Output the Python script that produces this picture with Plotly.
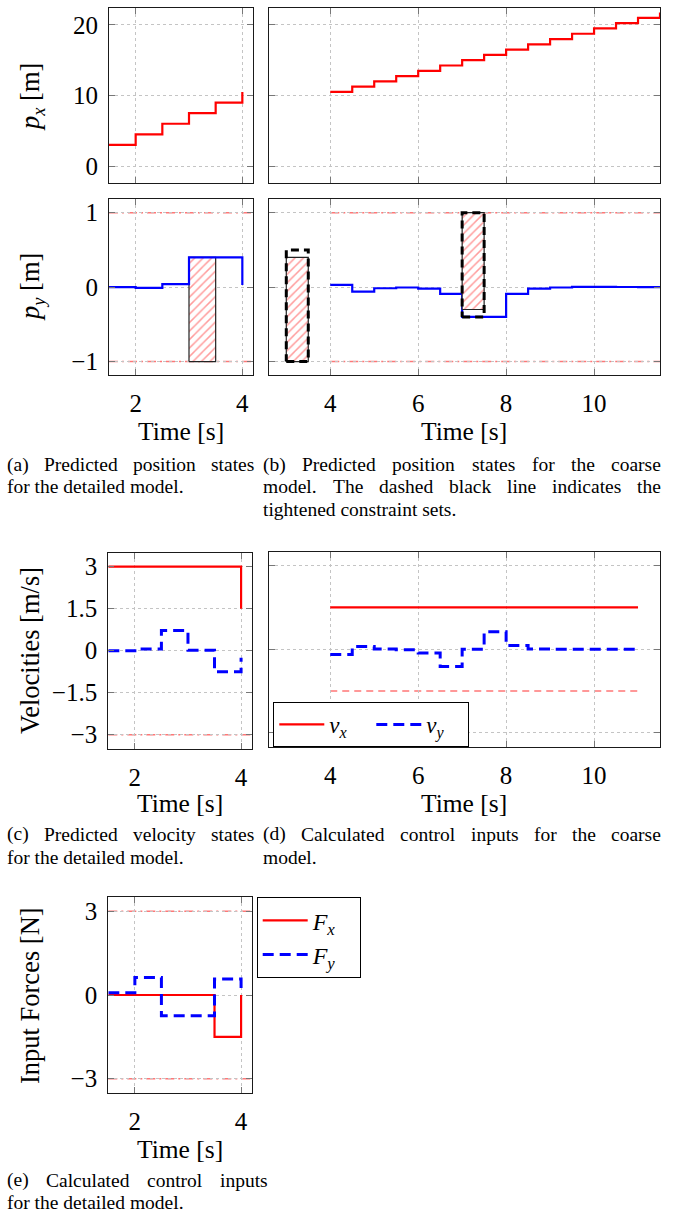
import plotly.graph_objects as go

# ---------------- data ----------------
t_det = [1.5, 2.0, 2.5, 3.0, 3.5, 4.0]
t_coarse = [4.0, 4.5, 5.0, 5.5, 6.0, 6.5, 7.0, 7.5, 8.0, 8.5, 9.0, 9.5, 10.0, 10.5, 11.0, 11.5]
t_coarse_in = [4.0, 4.5, 5.0, 5.5, 6.0, 6.5, 7.0, 7.5, 8.0, 8.5, 9.0, 9.5, 10.0, 10.5, 11.0]

px_det = [3.0, 4.5, 6.0, 7.5, 9.0, 10.5]
px_coarse = [10.5, 11.25, 12.0, 12.75, 13.5, 14.25, 15.0, 15.75, 16.5, 17.25, 18.0, 18.75, 19.5, 20.25, 21.0, 21.75]

py_det = [0.0, -0.01, 0.04, 0.4, 0.4, 0.03]
py_coarse = [0.03, -0.06, -0.015, -0.005, -0.02, -0.09, -0.4, -0.4, -0.09, -0.02, -0.005, 0.005, 0.003, 0.002, 0.0, 0.0]

vx_det = [3.0, 3.0, 3.0, 3.0, 3.0, 1.5]
vy_det = [0.0, 0.06, 0.72, 0.02, -0.75, -0.25]

vx_coarse = [1.5, 1.5, 1.5, 1.5, 1.5, 1.5, 1.5, 1.5, 1.5, 1.5, 1.5, 1.5, 1.5, 1.5, 1.5]
vy_coarse = [-0.19, 0.1, 0.01, -0.02, -0.14, -0.62, 0.0, 0.63, 0.13, 0.01, 0.0, 0.0, 0.0, 0.0, 0.0]

Fx_det = [0.0, 0.0, 0.0, 0.0, -1.5, 0.0]
Fy_det = [0.08, 0.63, -0.74, -0.74, 0.57, 0.25]

py_limit = 1.0
v_limit_det = 3.0
v_limit_coarse = 1.5
F_limit = 3.0

# obstacle sets [x0, x1, y0, y1]
obst_det = [3.0, 3.5, -1.0, 0.4]
obst_coarse = [[3.0, 3.5, -1.0, 0.4], [7.0, 7.5, -0.3, 1.0]]
obst_tight = [[3.0, 3.5, -1.0, 0.5], [7.0, 7.5, -0.4, 1.0]]

# ---------------- layout helpers ----------------
W, H = 674, 1215
SERIF = "Liberation Serif"
RED = "#ff0000"
BLUE = "#0000ff"
LRED = "#ff7777"
DASHDOT = "9px,4px,2px,4px"
HATCH = dict(shape="/", fgcolor="#ff3a3a", bgcolor="white", size=6, solidity=0.25)


def fx(p):
    return p / W


def fy(p):
    return 1 - p / H


boxes = {
    1: (109, 253, 8, 183),
    2: (268.7, 660, 8, 183),
    3: (109, 253, 199.3, 375),
    4: (268.7, 660, 199.3, 375),
    5: (108.3, 251.7, 552.7, 748.7),
    6: (268.7, 660, 551.7, 746.7),
    7: (108.3, 251.7, 897.3, 1092.7),
}

fig = go.Figure()


def rect_xy(r):
    x0, x1, y0, y1 = r
    return [x0, x1, x1, x0, x0], [y0, y0, y1, y1, y0]


def ax(n):
    return ("x" if n == 1 else f"x{n}"), ("y" if n == 1 else f"y{n}")


# (a) px detailed
xa, ya = ax(1)
fig.add_trace(go.Scatter(x=t_det, y=px_det, mode="lines", line=dict(color=RED, width=2.2, shape="hv"),
                         xaxis=xa, yaxis=ya, showlegend=False))
# (b) px coarse
xa, ya = ax(2)
fig.add_trace(go.Scatter(x=t_coarse, y=px_coarse, mode="lines", line=dict(color=RED, width=2.2, shape="hv"),
                         xaxis=xa, yaxis=ya, showlegend=False))

# (a) py detailed
xa, ya = ax(3)
rx, ry = rect_xy(obst_det)
fig.add_trace(go.Scatter(x=rx, y=ry, mode="lines", fill="toself", fillcolor="rgba(0,0,0,0)",
                         fillpattern=HATCH, line=dict(color="#222222", width=1.2),
                         xaxis=xa, yaxis=ya, showlegend=False))
fig.add_trace(go.Scatter(x=t_det, y=py_det, mode="lines", line=dict(color=BLUE, width=2.2, shape="hv"),
                         xaxis=xa, yaxis=ya, showlegend=False))

# (b) py coarse
xa, ya = ax(4)
fig.add_trace(go.Scatter(x=t_coarse, y=py_coarse, mode="lines", line=dict(color=BLUE, width=2.2, shape="hv"),
                         xaxis=xa, yaxis=ya, showlegend=False))
for r in obst_coarse:
    rx, ry = rect_xy(r)
    fig.add_trace(go.Scatter(x=rx, y=ry, mode="lines", fill="toself", fillcolor="rgba(0,0,0,0)",
                             fillpattern=HATCH, line=dict(color="#222222", width=1.2),
                             xaxis=xa, yaxis=ya, showlegend=False))
for r in obst_tight:
    rx, ry = rect_xy(r)
    fig.add_trace(go.Scatter(x=rx, y=ry, mode="lines", line=dict(color="black", width=3, dash="8px,5px"),
                             xaxis=xa, yaxis=ya, showlegend=False))

# (c) velocities detailed
xa, ya = ax(5)
fig.add_trace(go.Scatter(x=t_det, y=vx_det, mode="lines", line=dict(color=RED, width=2.2, shape="hv"),
                         xaxis=xa, yaxis=ya, showlegend=False))
fig.add_trace(go.Scatter(x=t_det, y=vy_det, mode="lines", line=dict(color=BLUE, width=3, shape="hv", dash="11px,6px"),
                         xaxis=xa, yaxis=ya, showlegend=False))

# (d) control inputs coarse
xa, ya = ax(6)
fig.add_trace(go.Scatter(x=t_coarse_in, y=vx_coarse, mode="lines", name="<i>v</i><sub><i>x</i></sub>",
                         line=dict(color=RED, width=2.2, shape="hv"), xaxis=xa, yaxis=ya, legend="legend"))
fig.add_trace(go.Scatter(x=t_coarse_in, y=vy_coarse, mode="lines", name="<i>v</i><sub><i>y</i></sub>",
                         line=dict(color=BLUE, width=3, shape="hv", dash="11px,6px"), xaxis=xa, yaxis=ya,
                         legend="legend"))

# (e) forces detailed
PAD = "&nbsp;" * 3
xa, ya = ax(7)
fig.add_trace(go.Scatter(x=t_det, y=Fx_det, mode="lines", name="<i>F</i><sub><i>x</i></sub>" + PAD,
                         line=dict(color=RED, width=2.2, shape="hv"), xaxis=xa, yaxis=ya, legend="legend2"))
fig.add_trace(go.Scatter(x=t_det, y=Fy_det, mode="lines", name="<i>F</i><sub><i>y</i></sub>" + PAD,
                         line=dict(color=BLUE, width=3, shape="hv", dash="11px,6px"), xaxis=xa, yaxis=ya,
                         legend="legend2"))

# ---------------- constraint lines (shapes in data coords) ----------------
shapes = []


def hline(n, yv, x0=None, x1=None, dash=DASHDOT):
    xa, ya = ax(n)
    if x0 is None:
        shapes.append(dict(type="line", xref=f"{xa} domain", yref=ya, x0=0, x1=1, y0=yv, y1=yv,
                           line=dict(color=LRED, width=1.5, dash=dash), layer="below"))
    else:
        shapes.append(dict(type="line", xref=xa, yref=ya, x0=x0, x1=x1, y0=yv, y1=yv,
                           line=dict(color=LRED, width=1.5, dash=dash), layer="below"))


hline(3, py_limit)
hline(3, -py_limit)
hline(4, py_limit, t_coarse[0], t_coarse[-1])
hline(4, -py_limit, t_coarse[0], t_coarse[-1])
hline(5, -v_limit_det)
hline(6, -v_limit_coarse, t_coarse_in[0], t_coarse_in[-1], dash="7px,5px")
hline(7, F_limit)
hline(7, -F_limit)

# ---------------- axes ----------------
tickfont = dict(family=SERIF, size=25, color="black")


def axis_common():
    return dict(showline=True, linecolor="#1a1a1a", linewidth=1.2, mirror="ticks", ticks="inside",
                ticklen=6, tickcolor="#777777", tickwidth=1, showgrid=True, gridcolor="#c4c4c4",
                griddash="dot", gridwidth=1, zeroline=False, tickfont=tickfont, fixedrange=True)


layout = dict(width=W, height=H, margin=dict(l=0, r=0, t=0, b=0), paper_bgcolor="white",
              plot_bgcolor="white", shapes=shapes, font=dict(family=SERIF, color="black"))

xranges = {1: [1.5, 4.2], 2: [2.6, 11.5], 3: [1.5, 4.2], 4: [2.6, 11.5], 5: [1.5, 4.2], 6: [2.6, 11.5],
           7: [1.5, 4.2]}
yranges = {1: [-2.4, 22.4], 2: [-2.4, 22.4], 3: [-1.18, 1.18], 4: [-1.18, 1.18], 5: [-3.5, 3.5],
           6: [-3.5, 3.5], 7: [-3.5, 3.5]}
xticks = {1: [2, 4], 2: [4, 6, 8, 10], 3: [2, 4], 4: [4, 6, 8, 10], 5: [2, 4], 6: [4, 6, 8, 10], 7: [2, 4]}
xlabels_on = {1: False, 2: False, 3: True, 4: True, 5: True, 6: True, 7: True}
yticks = {1: ([0, 10, 20], ["0", "10", "20"]), 2: ([0, 10, 20], None),
          3: ([-1, 0, 1], ["\u22121", "0", "1"]), 4: ([-1, 0, 1], None),
          5: ([-3, -1.5, 0, 1.5, 3], ["\u22123", "\u22121.5", "0", "1.5", "3"]),
          6: ([-3, 0, 3], None), 7: ([-3, 0, 3], ["\u22123", "0", "3"])}

for n, (l, r, t, b) in boxes.items():
    xa_name = "xaxis" if n == 1 else f"xaxis{n}"
    ya_name = "yaxis" if n == 1 else f"yaxis{n}"
    xa, ya = ax(n)
    xd = axis_common()
    xd.update(domain=[fx(l), fx(r)], range=xranges[n], anchor=ya, tickvals=xticks[n],
              ticktext=[str(v) for v in xticks[n]], showticklabels=xlabels_on[n], ticklabelstandoff=6)
    yd = axis_common()
    yv, yt = yticks[n]
    yd.update(domain=[fy(b), fy(t)], range=yranges[n], anchor=xa, tickvals=yv,
              ticktext=yt if yt else [str(v) for v in yv], showticklabels=yt is not None,
              ticklabelstandoff=5)
    layout[xa_name] = xd
    layout[ya_name] = yd

# ---------------- legends ----------------
layout["legend"] = dict(x=fx(273.3), y=fy(702), xanchor="left", yanchor="top", orientation="h",
                        bordercolor="black", borderwidth=1, bgcolor="white", entrywidth=37, itemwidth=45,
                        font=dict(family=SERIF, size=23, color="black"), tracegroupgap=0)
layout["legend2"] = dict(x=fx(256.7), y=fy(897.3), xanchor="left", yanchor="top", orientation="v",
                         bordercolor="black", borderwidth=1, bgcolor="white", itemwidth=45,
                         font=dict(family=SERIF, size=24, color="black"), tracegroupgap=0)

# ---------------- annotations ----------------
ann = []


def text(xp, yp, s, angle=0, size=25.5, xanchor="center"):
    ann.append(dict(x=fx(xp), y=fy(yp), xref="paper", yref="paper", text=s, showarrow=False,
                    textangle=angle, xanchor=xanchor, yanchor="middle", borderpad=0,
                    font=dict(family=SERIF, size=size, color="black")))


text(32, 97, "<i>p</i><sub><i>x</i></sub> [m]", angle=-90, size=26.5)
text(32, 287, "<i>p</i><sub><i>y</i></sub> [m]", angle=-90, size=26.5)
text(30, 651, "Velocities [m/s]", angle=-90, size=26.5)
text(30, 996, "Input Forces [N]", angle=-90, size=26.5)

text(181, 431, "Time [s]")
text(464, 431, "Time [s]")
text(180, 803, "Time [s]")
text(464, 803, "Time [s]")
text(180, 1149, "Time [s]")

# caption typesetting (Times metrics, justified lines)
AFM = {" ": 250, "(": 333, ")": 333, ".": 250, "C": 667, "P": 556, "T": 611,
       "a": 444, "b": 500, "c": 444, "d": 500, "e": 444, "f": 333, "g": 500, "h": 500, "i": 278,
       "j": 278, "k": 500, "l": 278, "m": 778, "n": 500, "o": 500, "p": 500, "q": 500, "r": 333,
       "s": 389, "t": 278, "u": 500, "v": 500, "w": 722, "x": 500, "y": 500, "z": 444}
CAP = 19.5


def wwidth(s):
    return sum(AFM.get(c, 500) for c in s) / 1000 * CAP


def caption(x0, x1, yp, s, justify):
    if not justify:
        text(x0, yp, s, size=CAP, xanchor="left")
        return
    words = s.split(" ")
    total = sum(wwidth(w) for w in words)
    gap = (x1 - x0 - total) / (len(words) - 1)
    x = x0
    for w in words:
        text(x, yp, w, size=CAP, xanchor="left")
        x += wwidth(w) + gap


L1, R1, R1e = 6, 253, 267
L2, R2 = 262, 660
caption(L1, R1, 465, "(a) Predicted position states", True)
caption(L1, R1, 487, "for the detailed model.", False)
caption(L2, R2, 465, "(b) Predicted position states for the coarse", True)
caption(L2, R2, 487, "model. The dashed black line indicates the", True)
caption(L2, R2, 509, "tightened constraint sets.", False)
caption(L1, R1, 834, "(c) Predicted velocity states", True)
caption(L1, R1, 857, "for the detailed model.", False)
caption(L2, R2, 834, "(d) Calculated control inputs for the coarse", True)
caption(L2, R2, 857, "model.", False)
caption(L1, R1e, 1180, "(e) Calculated control inputs", True)
caption(L1, R1e, 1202, "for the detailed model.", False)

layout["annotations"] = ann
fig.update_layout(**layout)
fig.write_html("out.html", config={"displayModeBar": False},
               post_script="document.body.style.margin='0px';document.body.style.overflow='hidden';")
